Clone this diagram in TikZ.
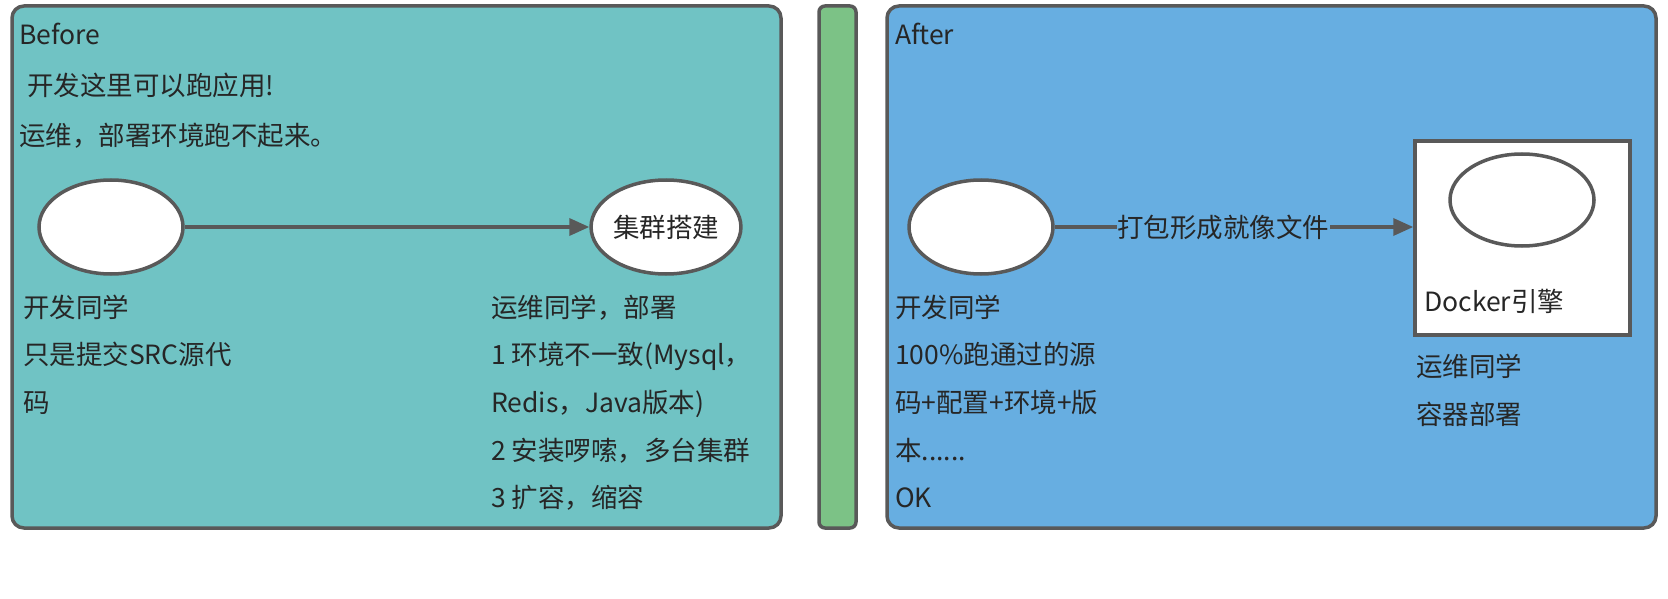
\documentclass[tikz,border=0pt]{standalone}
\usepackage{fontspec}
\newfontfamily\cjk{Noto Sans CJK SC}
\usetikzlibrary{arrows.meta,shapes.geometric}
\definecolor{beforeteal}{RGB}{112,195,196}
\definecolor{afterblue}{RGB}{103,174,225}
\definecolor{bargreen}{RGB}{124,194,134}
\definecolor{edgegray}{RGB}{89,89,89}
\tikzset{
  panel/.style={draw=edgegray, line width=3.5pt, rounded corners=12pt},
  blob/.style={ellipse, draw=edgegray, line width=3.5pt, fill=white, minimum width=144pt, minimum height=94pt, inner sep=0pt, font=\cjk\fontsize{26.5}{30}\selectfont, text=black!85},
  txt/.style={anchor=west, inner sep=0pt, text height=20pt, text depth=0pt, font=\cjk\fontsize{26.5}{30}\selectfont, text=black!85},
  conn/.style={draw=edgegray, line width=3.5pt, -{Triangle[length=20pt,width=17pt]}},
}
\begin{document}
\begin{tikzpicture}[x=1pt, y=-1pt]
  \useasboundingbox (0,0) rectangle (1668,599);
  %%%%% panels %%%%%
  \draw[panel, fill=beforeteal] (12,6) rectangle (781,528);
  \draw[panel, fill=bargreen, rounded corners=6pt] (819,6) rectangle (856,528);
  \draw[panel, fill=afterblue] (887,6) rectangle (1656,528);

  %%%%% before %%%%%
  \node[txt] (beforetitle) at (19,35) {Before};
  \node[txt] (beforeline1) at (27,86) {开发这里可以跑应用!};
  \node[txt] (beforeline2) at (19,136) {运维，部署环境跑不起来。};

  \node[blob] (devold) at (111,227) {};
  \node[blob] (cluster) at (666,227) {集群搭建};
  \draw[conn] (devold) -- (cluster);

  \node[txt] (devold1) at (23,307) {开发同学};
  \node[txt] (devold2) at (23,354) {只是提交SRC源代};
  \node[txt] (devold3) at (23,402) {码};

  \node[txt] (opsold1) at (491,307) {运维同学，部署};
  \node[txt] (opsold2) at (491,354) {1 环境不一致(Mysql，};
  \node[txt] (opsold3) at (491,402) {Redis，Java版本)};
  \node[txt] (opsold4) at (491,450) {2 安装啰嗦，多台集群};
  \node[txt] (opsold5) at (491,497) {3 扩容，缩容};

  %%%%% after %%%%%
  \node[txt] (aftertitle) at (895,35) {After};

  \node[blob] (devnew) at (981,227) {};
  \node[draw=edgegray, line width=3.5pt, fill=white, minimum width=215pt, minimum height=194pt, inner sep=0pt] (engine) at (1522.5,238) {};
  \node[blob, minimum height=92pt] (container) at (1522,200) {};
  \node[txt] (enginelabel) at (1424,301) {Docker引擎};
  \draw[conn] (devnew) -- node[txt, anchor=center, pos=0.47, fill=afterblue, inner xsep=0.5pt] (imagelabel) {打包形成就像文件} (devnew -| engine.west);

  \node[txt] (devnew1) at (895,307) {开发同学};
  \node[txt] (devnew2) at (895,354) {100\%跑通过的源};
  \node[txt] (devnew3) at (895,402) {码+配置+环境+版};
  \node[txt] (devnew4) at (895,450) {本......};
  \node[txt] (devnew5) at (895,497) {OK};

  \node[txt] (opsnew1) at (1416,366) {运维同学};
  \node[txt] (opsnew2) at (1416,414) {容器部署};
\end{tikzpicture}
\end{document}
